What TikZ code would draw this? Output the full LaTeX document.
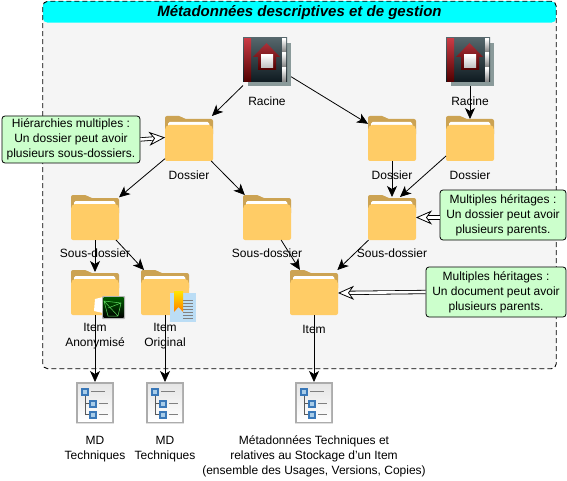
\documentclass[tikz,border=0pt]{standalone}
\usepackage{fontspec}
\setmainfont{Liberation Sans}
\usetikzlibrary{arrows.meta}
\definecolor{dossierfond}{HTML}{FFCC66}
\definecolor{dossierdos}{HTML}{CCA353}
\definecolor{notevert}{HTML}{CCFFCC}
\definecolor{cadrefond}{HTML}{F5F5F5}
\definecolor{cadretete}{HTML}{00FFFF}
\definecolor{racinehaut}{HTML}{55666B}
\definecolor{racinebas}{HTML}{0E1A20}
\definecolor{racineombre}{HTML}{8A9A9A}
\definecolor{rougehaut}{HTML}{C83A44}
\definecolor{rougebas}{HTML}{500000}
\definecolor{arbrebleu}{HTML}{3A78B8}
\definecolor{arbreclair}{HTML}{A8CCE8}
\definecolor{feuillebleu}{HTML}{BBDDF5}
\tikzset{
  icone/.style={inner sep=0pt,outer sep=0pt,minimum width=#1},
  dossier/.style={icone=48pt,minimum height=45pt},
  racine/.style={icone=48pt,minimum height=48pt},
  arbre/.style={icone=38pt,minimum height=42pt},
  anonyme/.style={icone=31pt,minimum height=23pt},
  original/.style={icone=26pt,minimum height=31pt},
  note/.style={draw,rounded corners=3pt,fill=notevert,line width=.8pt,align=center,inner sep=0pt,
    font=\fontsize{12}{15}\selectfont},
  texte/.style={align=center,inner sep=0pt,font=\fontsize{12}{15}\selectfont},
  lien/.style={line width=.8pt,-{Stealth[length=11pt,width=10pt,inset=3pt]}},
  creux/.style={double,double distance=2.6pt,line width=.8pt,
    -{Stealth[length=16pt,width=14pt,inset=5pt,fill=white,line width=.8pt]}}
}
\newcommand{\dessindossier}[1]{
  \begin{scope}[shift={(#1.north west)}]
    \fill[dossierdos,rounded corners=2pt] (0,20) -- (0,0) -- (16,0) -- (19,3) -- (48,3) -- (48,20) -- cycle;
    \fill[white,rounded corners=1.5pt] (3,14) -- (3,6) -- (44,6) -- (45,14) -- cycle;
    \fill[dossierfond,rounded corners=2pt] (0,45) -- (0,12) -- (2,9) -- (46,9) -- (48,12) -- (48,45) -- cycle;
  \end{scope}
}
\newcommand{\dessinracine}[1]{
  \begin{scope}[shift={(#1.north west)}]
    \fill[racineombre] (5,5) rectangle (48,48);
    \shade[top color=racinehaut,bottom color=racinebas] (0,0) rectangle (44,44);
    \shade[top color=rougehaut,bottom color=rougebas] (1,1) rectangle (8,44);
    \shade[top color=white,bottom color=gray] (39,1) rectangle (43,14);
    \shade[top color=white,bottom color=gray] (39,15) rectangle (43,29);
    \shade[top color=white,bottom color=gray] (39,30) rectangle (43,44);
    \shade[top color=rougehaut!85!black,bottom color=rougebas] (23.5,5) -- (37,19) -- (33,19) -- (33,32) -- (15,32) -- (15,19) -- (10,19) -- cycle;
    \shade[top color=white,bottom color=gray!50] (18,17) rectangle (30,30);
  \end{scope}
}
\newcommand{\dessinarbre}[1]{
  \begin{scope}[shift={(#1.north west)}]
    \fill[gray!65] (0,0) rectangle (38,41);
    \fill[gray!25] (0,41) rectangle (38,42);
    \shade[top color=gray!20,bottom color=white] (2,2) rectangle (36,39);
    \draw[gray!70!black,line width=.8pt] (9,13) -- (9,32) -- (14,32) (9,21) -- (14,21);
    \draw[gray,line width=1pt] (15,9) -- (29,9) (23,21.5) -- (32,21.5) (23,32.5) -- (32,32.5);
    \foreach \y/\x in {5.5/5,17.5/13,28.5/13}
      {\fill[arbrebleu] (\x,\y) rectangle +(8,8);
       \fill[arbreclair] (\x+2,\y+2) rectangle +(4,4);}
  \end{scope}
}
\begin{document}
\begin{tikzpicture}[x=1pt,y=-1pt]
  \useasboundingbox (0,0) rectangle (567,481);
  \node[draw,fill=cadrefond,rounded corners=5pt,line width=.9pt,dash pattern=on 5pt off 3pt,
    minimum width=513.5pt,minimum height=367.5pt,inner sep=0pt,path picture={
      \fill[cadretete] (path picture bounding box.north west) rectangle ([yshift=-21.5pt]path picture bounding box.north east);
    }] (cadre) at (299.5,185) {};
  \node[inner sep=0pt,font=\fontsize{15}{18}\selectfont\bfseries\itshape] (titre) at (299.5,13) {Métadonnées descriptives et de gestion};
  \draw
    (267,62) node[racine] (r1){}
    (470,62) node[racine] (r2){}
    (189,138.5) node[dossier] (d1){}
    (392,138.5) node[dossier] (d2){}
    (470,138.5) node[dossier] (d3){}
    (95,217.5) node[dossier] (s1){}
    (267,217.5) node[dossier] (s2){}
    (392,217.5) node[dossier] (s3){}
    (95,292.5) node[dossier] (i1){}
    (165,292.5) node[dossier] (i2){}
    (314,292.5) node[dossier] (i3){}
    (109.5,307.5) node[anonyme] (a1){}
    (183,306.5) node[original] (o2){}
    (95,403) node[arbre] (m1){}
    (165,403) node[arbre] (m2){}
    (314,403) node[arbre] (m3){};
  \foreach \n in {r1,r2} {\dessinracine{\n}}
  \foreach \n in {d1,d2,d3,s1,s2,s3,i1,i2,i3} {\dessindossier{\n}}
  \foreach \n in {m1,m2,m3} {\dessinarbre{\n}}
  \begin{scope}[shift={(a1.north west)}]
    \fill[white] (1,3) -- (9,1) -- (9,17) -- (0,15) -- cycle;
    \fill[gray!60,rounded corners=1pt] (8,0) rectangle (31,23);
    \shade[top color=green!35!black,bottom color=black] (9.5,1.5) rectangle (29.5,21.5);
    \draw[green!60!gray!80,line width=.5pt] (10,5) -- (27,7) -- (24,20) -- (14,20) -- cycle (10,5) -- (24,20) (27,7) -- (14,12);
  \end{scope}
  \begin{scope}[shift={(o2.north west)}]
    \fill[feuillebleu] (0,2) rectangle (26,31);
    \draw[gray,line width=.7pt] \foreach \y in {9,12,...,27} {(13,\y) -- (23,\y)};
    \shade[top color=yellow!80!orange,bottom color=orange] (4,0) -- (13,0) -- (13,21) -- (8.5,16) -- (4,21) -- cycle;
  \end{scope}
  \draw
    (267,101) node[texte] (tr1){Racine}
    (470,101) node[texte] (tr2){Racine}
    (189,175) node[texte] (td1){Dossier}
    (392,175) node[texte] (td2){Dossier}
    (470,175) node[texte] (td3){Dossier}
    (95,253) node[texte] (ts1){Sous-dossier}
    (267,253) node[texte] (ts2){Sous-dossier}
    (392,253) node[texte] (ts3){Sous-dossier}
    (95,336) node[texte] (ti1){Item\\Anonymisé}
    (165,336) node[texte] (ti2){Item\\Original}
    (314,329) node[texte] (ti3){Item}
    (95,449.5) node[texte] (tm1){MD\\Techniques}
    (165,449.5) node[texte] (tm2){MD\\Techniques}
    (314,456) node[texte] (tm3){Métadonnées Techniques et\\relatives au Stockage d'un Item\\(ensemble des Usages, Versions, Copies)};
  \begin{scope}[lien]
    \draw (r1) to (d1);
    \draw (r1) to (d2);
    \draw (r2) to ([yshift=-3pt]d3.north);
    \draw (d1) to (s1);
    \draw (d1) to (s2);
    \draw (d2) to ([yshift=-2pt]s3.north);
    \draw ([yshift=-17.5pt]d3.west) to ([xshift=8pt,yshift=-2pt]s3.north);
    \draw (s1) to ([yshift=-2pt]i1.north);
    \draw (s1) to (i2);
    \draw (s2) to (i3);
    \draw (s3) to (i3);
    \draw (i1.south) to (m1.north);
    \draw (i2.south) to (m2.north);
    \draw (i3.south) to (m3.north);
  \end{scope}
  \draw
    (71,139.5) node[note,minimum width=138pt,minimum height=47pt] (n1){Hiérarchies multiples :\\Un dossier peut avoir\\plusieurs sous-dossiers.}
    (503,215) node[note,minimum width=126pt,minimum height=50pt] (n2){Multiples héritages :\\Un dossier peut avoir\\plusieurs parents.}
    (496,292) node[note,minimum width=140pt,minimum height=50pt] (n3){Multiples héritages :\\Un document peut avoir\\plusieurs parents.};
  \draw[creux] (n1.east) to ([yshift=1pt]d1.west);
  \draw[creux] ([yshift=-2.5pt]n2.west) to (s3.east);
  \draw[creux] (n3.west) to ([yshift=-.5pt]i3.east);
\end{tikzpicture}
\end{document}
